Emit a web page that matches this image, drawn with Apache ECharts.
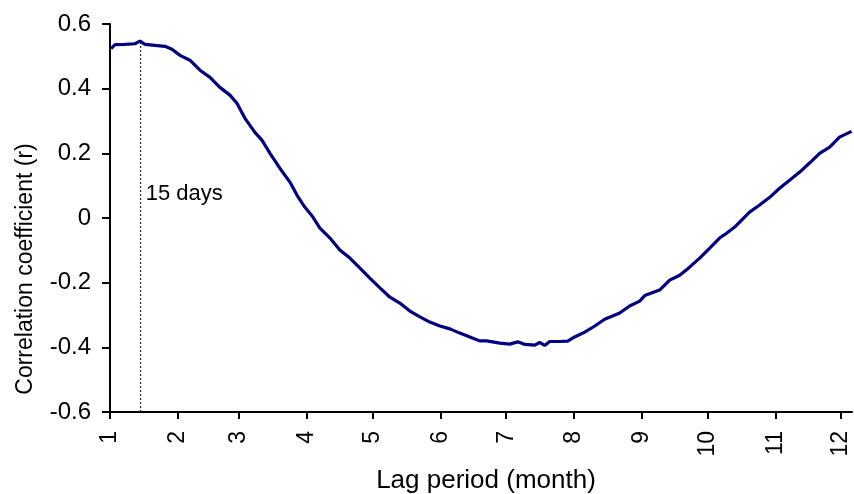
<!DOCTYPE html>
<html>
<head>
<meta charset="utf-8">
<script src="https://cdn.jsdelivr.net/npm/echarts@6/dist/echarts.min.js"></script>
<style>
  html, body { margin: 0; padding: 0; background: #fff; }
  #chart { width: 854px; height: 494px; }
</style>
</head>
<body>
<div id="chart"></div>
<script>
// Lag expressed in days; each month tick sits on the first day of that month.
const monthStartDays = [1, 32, 60, 91, 121, 152, 182, 213, 244, 274, 305, 335];
const monthLabels = ['1', '2', '3', '4', '5', '6', '7', '8', '9', '10', '11', '12'];
const yTicks = [-0.6, -0.4, -0.2, 0, 0.2, 0.4, 0.6];

// Correlation coefficient against lag (days)
const lagDays = [1.5, 3.3, 7.8, 12.4, 14.7, 17, 21.5, 26.1, 29.3, 33, 37.5, 42.1, 46.7, 51.2, 55.8, 59,
  62.6, 67.2, 70.4, 74.1, 78.6, 83.2, 86.4, 90, 93.7, 96.9, 101.5, 106, 110.6, 115.2, 119.7, 124.3,
  128.9, 133.4, 138, 142.6, 147.1, 151.7, 156.3, 160.8, 165.4, 169.9, 173.1, 179.1, 183.6, 187.3,
  190.5, 195.1, 197.3, 199.6, 201.9, 206.5, 210.1, 213.3, 217.9, 222.5, 227, 233.9, 238.4, 243,
  245.3, 252.1, 256.7, 261.3, 265.8, 270.4, 275, 279.5, 282.7, 286.4, 293.2, 297.8, 302.4, 306.9,
  311.5, 316.1, 320.6, 325.2, 329.8, 334.3, 339.8];
const corrR = [0.524, 0.536, 0.537, 0.539, 0.547, 0.537, 0.534, 0.531, 0.522, 0.503, 0.488, 0.457,
  0.435, 0.404, 0.380, 0.355, 0.309, 0.265, 0.241, 0.200, 0.154, 0.111, 0.071, 0.034, 0.003, -0.031,
  -0.062, -0.099, -0.124, -0.155, -0.186, -0.216, -0.245, -0.263, -0.288, -0.306, -0.322, -0.334,
  -0.343, -0.356, -0.368, -0.380, -0.380, -0.387, -0.390, -0.383, -0.391, -0.393, -0.385, -0.394,
  -0.382, -0.382, -0.381, -0.368, -0.353, -0.334, -0.313, -0.294, -0.272, -0.257, -0.240, -0.223,
  -0.192, -0.177, -0.152, -0.124, -0.093, -0.062, -0.047, -0.028, 0.018, 0.040, 0.064, 0.092,
  0.117, 0.142, 0.170, 0.200, 0.219, 0.250, 0.268];

// Marked lag and its annotation
const markDay = 15;
const markPeak = 0.547;
const markText = '15 days';
const markTextY = 0.075;

const FONT = '"Liberation Sans", Arial, sans-serif';
const chart = echarts.init(document.getElementById('chart'));

chart.setOption({
  animation: false,
  backgroundColor: '#ffffff',
  grid: { left: 110, right: 2, top: 24, bottom: 82, containLabel: false },
  xAxis: {
    type: 'value',
    min: 1,
    max: 340,
    splitLine: { show: false },
    axisLine: { show: true, onZero: false, lineStyle: { color: '#000', width: 2 } },
    axisTick: { show: true, length: 7, lineStyle: { color: '#000', width: 2 }, customValues: monthStartDays },
    axisLabel: {
      customValues: monthStartDays,
      rotate: 90,
      margin: 19,
      color: '#000',
      fontFamily: FONT,
      fontSize: 23,
      formatter: v => monthLabels[monthStartDays.indexOf(v)] ?? ''
    }
  },
  yAxis: {
    type: 'value',
    min: -0.6,
    max: 0.6,
    interval: 0.2,
    splitLine: { show: false },
    axisLine: { show: true, onZero: false, lineStyle: { color: '#000', width: 2 } },
    axisTick: { show: true, length: 8, lineStyle: { color: '#000', width: 2 } },
    axisLabel: {
      margin: 19,
      color: '#000',
      fontFamily: FONT,
      fontSize: 24,
      formatter: v => String(+v.toFixed(1))
    }
  },
  series: [
    {
      type: 'line',
      data: lagDays.map((d, i) => [d, corrR[i]]),
      showSymbol: false,
      smooth: false,
      lineStyle: { color: '#000080', width: 3.2 },
      z: 3
    },
    {
      type: 'line',
      data: [[markDay, -0.6], [markDay, markPeak]],
      showSymbol: false,
      lineStyle: { color: '#000', width: 1, type: [2, 2] },
      z: 2
    }
  ]
});

// Text placed through the axis scales
const labelPos = chart.convertToPixel({ gridIndex: 0 }, [markDay, markTextY]);
chart.setOption({
  graphic: [
    {
      type: 'text',
      x: labelPos[0] + 5,
      y: labelPos[1],
      style: { text: markText, fill: '#000', font: '22px ' + FONT, textVerticalAlign: 'middle' }
    },
    {
      type: 'text',
      x: 486,
      y: 481,
      style: { text: 'Lag period (month)', fill: '#000', font: '26px ' + FONT, textAlign: 'center', textVerticalAlign: 'middle' }
    },
    {
      type: 'text',
      x: 26,
      y: 269,
      rotation: Math.PI / 2,
      style: { text: 'Correlation coefficient (r)', fill: '#000', font: '23px ' + FONT, textAlign: 'center', textVerticalAlign: 'middle' }
    }
  ]
});
</script>
</body>
</html>
